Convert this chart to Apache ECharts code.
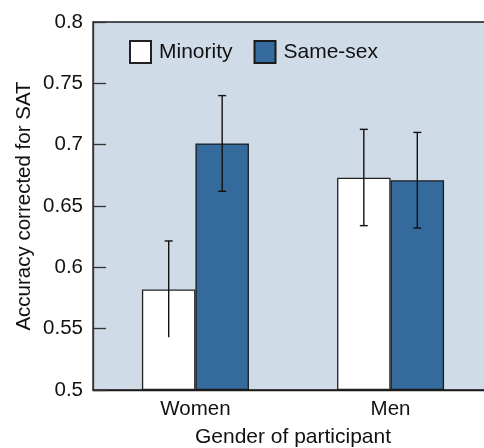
<!DOCTYPE html>
<html>
<head>
<meta charset="utf-8">
<script src="https://cdn.jsdelivr.net/npm/echarts@6/dist/echarts.min.js"></script>
<style>html,body{margin:0;padding:0;background:#fff;}#c{width:484px;height:448px;}</style>
</head>
<body>
<div id="c"></div>
<script>
var categories = ['Women', 'Men'];
var seriesNames = ['Minority', 'Same-sex'];
var minorityValues = [0.582, 0.673];
var sameSexValues = [0.701, 0.671];
var minorityLow = [0.543, 0.634];
var minorityHigh = [0.6215, 0.7125];
var sameSexLow = [0.662, 0.632];
var sameSexHigh = [0.740, 0.710];
var minorityCapsLow = [false, true];
var yTicks = [0.5, 0.55, 0.6, 0.65, 0.7, 0.75, 0.8];

var BAR_W = 53.5;
var FONT = '"Liberation Sans", Arial, Helvetica, sans-serif';

function pairs(vals) { return vals.map(function (v, i) { return [i, v]; }); }

var errData = [];
categories.forEach(function (c, i) {
  errData.push([i, minorityLow[i], minorityHigh[i], -1, minorityCapsLow[i] ? 1 : 0]);
  errData.push([i, sameSexLow[i], sameSexHigh[i], 1, 1]);
});

var chart = echarts.init(document.getElementById('c'), null, { renderer: 'canvas' });
chart.setOption({
  animation: false,
  backgroundColor: '#ffffff',
  grid: {
    left: 93, top: 22, right: -9, bottom: 58,
    show: true, backgroundColor: '#cfdbe7', borderColor: '#1a1a1a', borderWidth: 1.3,
    containLabel: false, outerBoundsMode: 'none'
  },
  legend: {
    left: 124, top: 35, orient: 'horizontal',
    itemWidth: 21, itemHeight: 22, itemGap: 21,
    icon: 'rect',
    data: seriesNames,
    textStyle: { fontFamily: FONT, fontSize: 21, color: '#111', padding: [0, 0, 0, 3] }
  },
  xAxis: {
    type: 'value', min: -0.525, max: 1.525,
    name: 'Gender of participant', nameLocation: 'middle', nameGap: 37, nameMoveOverlap: false,
    nameTextStyle: { fontFamily: FONT, fontSize: 21, color: '#111' },
    axisLine: { show: true, onZero: false, lineStyle: { color: '#1a1a1a', width: 1.3 } },
    axisTick: { show: false },
    splitLine: { show: false },
    axisLabel: {
      customValues: [0, 1], margin: 9,
      fontFamily: FONT, fontSize: 20.5, color: '#111',
      formatter: function (v) { return categories[Math.round(v)]; }
    }
  },
  yAxis: {
    type: 'value', min: 0.5, max: 0.8, interval: 0.05, startValue: 0.5,
    name: 'Accuracy corrected for SAT', nameLocation: 'middle', nameGap: 58, nameMoveOverlap: false,
    nameTextStyle: { fontFamily: FONT, fontSize: 20.5, color: '#111' },
    axisLine: { show: true, onZero: false, lineStyle: { color: '#333', width: 1.3 } },
    axisTick: { show: true, inside: true, length: 13, lineStyle: { color: '#333', width: 1.3 } },
    splitLine: { show: false },
    axisLabel: {
      margin: 10, fontFamily: FONT, fontSize: 20.5, color: '#111',
      formatter: function (v) {
        var r = Math.round(v * 100) / 100;
        return yTicks.indexOf(r) >= 0 ? String(r) : '';
      }
    }
  },
  series: [
    {
      name: seriesNames[0], type: 'bar', data: pairs(minorityValues),
      barWidth: BAR_W, barGap: '0%', clip: true,
      itemStyle: { color: '#ffffff', borderColor: '#222', borderWidth: 1.3 }
    },
    {
      name: seriesNames[1], type: 'bar', data: pairs(sameSexValues),
      barWidth: BAR_W, barGap: '0%', clip: true,
      itemStyle: { color: '#346b9c', borderColor: '#1a1a1a', borderWidth: 1.3 }
    },
    {
      type: 'custom', z: 10, silent: true,
      data: errData,
      encode: { x: 0, y: [1, 2] },
      renderItem: function (params, api) {
        var x = api.value(0);
        var lo = api.coord([x, api.value(1)]);
        var hi = api.coord([x, api.value(2)]);
        var px = lo[0] + api.value(3) * BAR_W / 2;
        var cap = 4;
        var style = { stroke: '#111', lineWidth: 1.4 };
        var children = [
          { type: 'line', shape: { x1: px, y1: lo[1], x2: px, y2: hi[1] }, style: style },
          { type: 'line', shape: { x1: px - cap, y1: hi[1], x2: px + cap, y2: hi[1] }, style: style }
        ];
        if (api.value(4)) {
          children.push({ type: 'line', shape: { x1: px - cap, y1: lo[1], x2: px + cap, y2: lo[1] }, style: style });
        }
        return { type: 'group', children: children };
      }
    }
  ]
});
</script>
</body>
</html>
